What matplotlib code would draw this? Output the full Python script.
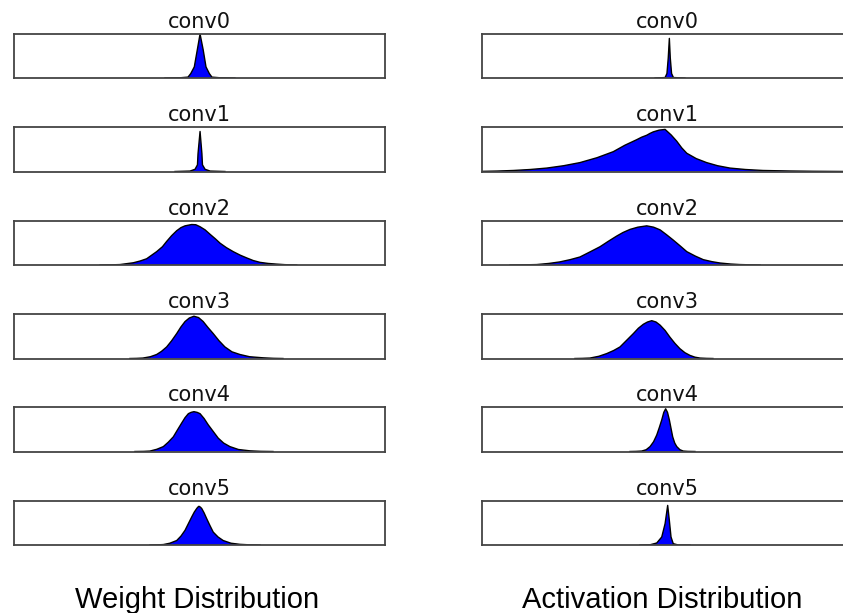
import matplotlib
matplotlib.use("Agg")
import matplotlib.pyplot as plt

layers = ["conv0", "conv1", "conv2", "conv3", "conv4", "conv5"]
column_titles = ["Weight Distribution", "Activation Distribution"]

# Weight distributions (value, relative density)
w0_x = [-0.186, -0.105, -0.062, -0.047, -0.028, -0.012, 0.003, 0.020, 0.035, 0.053, 0.067, 0.111, 0.191]
w0_y = [0, 0.005, 0.02, 0.1, 0.25, 0.63, 0.99, 0.63, 0.25, 0.1, 0.02, 0.005, 0]
w1_x = [-0.132, -0.051, -0.024, -0.011, -0.008, 0.003, 0.013, 0.016, 0.030, 0.057, 0.137]
w1_y = [0, 0.01, 0.05, 0.15, 0.40, 0.90, 0.40, 0.15, 0.05, 0.01, 0]
w2_x = [-0.536, -0.48, -0.429, -0.357, -0.32, -0.285, -0.231, -0.20, -0.177, -0.15, -0.123, -0.10, -0.078,
        -0.042, -0.02, 0.003, 0.03, 0.057, 0.085, 0.111, 0.145, 0.182, 0.22, 0.254, 0.29, 0.326, 0.37, 0.416,
        0.46, 0.524]
w2_y = [0, 0.003, 0.01, 0.05, 0.09, 0.14, 0.30, 0.41, 0.53, 0.66, 0.77, 0.84, 0.88,
        0.91, 0.905, 0.86, 0.79, 0.69, 0.59, 0.49, 0.39, 0.30, 0.22, 0.16, 0.10, 0.06, 0.035, 0.02,
        0.008, 0]
w3_x = [-0.375, -0.34, -0.305, -0.265, -0.231, -0.205, -0.177, -0.15, -0.123, -0.10, -0.078, -0.055, -0.030,
        -0.005, 0.020, 0.045, 0.074, 0.105, 0.137, 0.175, 0.218, 0.27, 0.344, 0.40, 0.450]
w3_y = [0, 0.003, 0.01, 0.04, 0.09, 0.16, 0.26, 0.40, 0.56, 0.71, 0.83, 0.91, 0.95,
        0.92, 0.83, 0.70, 0.56, 0.40, 0.26, 0.15, 0.09, 0.04, 0.015, 0.004, 0]
w4_x = [-0.348, -0.30, -0.267, -0.23, -0.195, -0.168, -0.141, -0.118, -0.096, -0.078, -0.060, -0.045, -0.030,
        -0.013, 0.003, 0.025, 0.047, 0.074, 0.101, 0.13, 0.164, 0.21, 0.272, 0.33, 0.396]
w4_y = [0, 0.003, 0.01, 0.05, 0.11, 0.21, 0.33, 0.49, 0.64, 0.76, 0.85, 0.88, 0.895,
        0.88, 0.85, 0.74, 0.60, 0.45, 0.30, 0.19, 0.11, 0.045, 0.015, 0.004, 0]
w5_x = [-0.267, -0.23, -0.195, -0.16, -0.123, -0.10, -0.078, -0.06, -0.042, -0.028, -0.015, -0.009, -0.003,
        0.005, 0.012, 0.025, 0.039, 0.056, 0.074, 0.10, 0.128, 0.17, 0.218, 0.27, 0.326]
w5_y = [0, 0.003, 0.01, 0.04, 0.10, 0.20, 0.33, 0.48, 0.63, 0.74, 0.82, 0.85, 0.87,
        0.85, 0.82, 0.72, 0.59, 0.44, 0.29, 0.18, 0.10, 0.04, 0.015, 0.004, 0]

# Activation distributions (value, relative density)
a0_x = [-0.067, -0.013, -0.003, 0.004, 0.010, 0.015, 0.022, 0.032, 0.094]
a0_y = [0, 0.01, 0.1, 0.45, 0.89, 0.45, 0.1, 0.01, 0]
a1_x = [-1.0, -0.92, -0.831, -0.74, -0.651, -0.56, -0.472, -0.38, -0.292, -0.23, -0.166, -0.14, -0.112,
        -0.095, -0.077, -0.045, -0.013, 0.02, 0.050, 0.077, 0.104, 0.155, 0.211, 0.27, 0.337, 0.42, 0.515,
        0.65, 0.784, 0.984]
a1_y = [0.003, 0.01, 0.023, 0.045, 0.077, 0.13, 0.20, 0.31, 0.446, 0.59, 0.715, 0.77, 0.815,
        0.855, 0.89, 0.93, 0.946, 0.82, 0.68, 0.53, 0.41, 0.29, 0.20, 0.13, 0.077, 0.045, 0.023,
        0.012, 0.005, 0]
a2_x = [-0.849, -0.78, -0.705, -0.64, -0.580, -0.525, -0.472, -0.42, -0.364, -0.32, -0.274, -0.24, -0.202,
        -0.16, -0.112, -0.075, -0.040, -0.005, 0.031, 0.068, 0.104, 0.15, 0.193, 0.24, 0.283, 0.34, 0.391,
        0.45, 0.499]
a2_y = [0, 0.003, 0.01, 0.035, 0.07, 0.12, 0.18, 0.29, 0.41, 0.53, 0.65, 0.73, 0.80,
        0.85, 0.88, 0.85, 0.79, 0.68, 0.56, 0.43, 0.30, 0.20, 0.12, 0.075, 0.045, 0.022, 0.01,
        0.004, 0]
a3_x = [-0.499, -0.46, -0.418, -0.37, -0.328, -0.29, -0.256, -0.22, -0.184, -0.157, -0.130, -0.108, -0.085,
        -0.062, -0.040, -0.013, 0.013, 0.04, 0.067, 0.094, 0.121, 0.148, 0.175, 0.21, 0.245]
a3_y = [0, 0.003, 0.01, 0.05, 0.11, 0.18, 0.26, 0.41, 0.56, 0.68, 0.77, 0.82, 0.85,
        0.82, 0.75, 0.63, 0.48, 0.34, 0.22, 0.13, 0.07, 0.03, 0.01, 0.003, 0]
a4_x = [-0.202, -0.17, -0.139, -0.115, -0.094, -0.075, -0.058, -0.044, -0.031, -0.02, -0.010, 0.0, 0.010,
        0.019, 0.028, 0.039, 0.050, 0.067, 0.085, 0.11, 0.148]
a4_y = [0, 0.003, 0.01, 0.04, 0.11, 0.22, 0.37, 0.54, 0.71, 0.88, 0.96, 0.88, 0.71,
        0.52, 0.33, 0.19, 0.11, 0.04, 0.01, 0.003, 0]
a5_x = [-0.148, -0.094, -0.058, -0.031, -0.013, 0.001, 0.010, 0.019, 0.031, 0.058, 0.121]
a5_y = [0, 0.005, 0.045, 0.18, 0.48, 0.89, 0.55, 0.18, 0.03, 0.0, 0]

weights = [(w0_x, w0_y), (w1_x, w1_y), (w2_x, w2_y), (w3_x, w3_y), (w4_x, w4_y), (w5_x, w5_y)]
activations = [(a0_x, a0_y), (a1_x, a1_y), (a2_x, a2_y), (a3_x, a3_y), (a4_x, a4_y), (a5_x, a5_y)]

W, H = 843, 613
fig = plt.figure(figsize=(W / 100, H / 100), dpi=100)

col_left = [14, 482]
ax_w = 371
ax_h = 44.5
row_tops = [33.5, 127, 220.5, 314, 407, 500.5]

for c, data in enumerate([weights, activations]):
    for r, (xs, ys) in enumerate(data):
        top = row_tops[r]
        ax = fig.add_axes([col_left[c] / W, 1 - (top + ax_h) / H, ax_w / W, ax_h / H])
        ax.fill_between(xs, ys, 0, facecolor="#0000ff", edgecolor="none")
        ax.plot(xs, ys, color="black", lw=1.0, solid_joinstyle="round")
        ax.set_xlim(-1, 1)
        ax.set_ylim(0, 1)
        ax.set_xticks([])
        ax.set_yticks([])
        for s in ax.spines.values():
            s.set_color("#444444")
            s.set_linewidth(1.3)
        ax.set_title(layers[r], fontsize=15, pad=4, family="DejaVu Sans", color="#111111")

fig.text(197 / W, 1 - 608 / H, column_titles[0], ha="center", va="baseline",
         fontsize=21, family="Liberation Sans", color="black")
fig.text(662 / W, 1 - 608 / H, column_titles[1], ha="center", va="baseline",
         fontsize=21, family="Liberation Sans", color="black")

fig.savefig("out.png", dpi=100)
